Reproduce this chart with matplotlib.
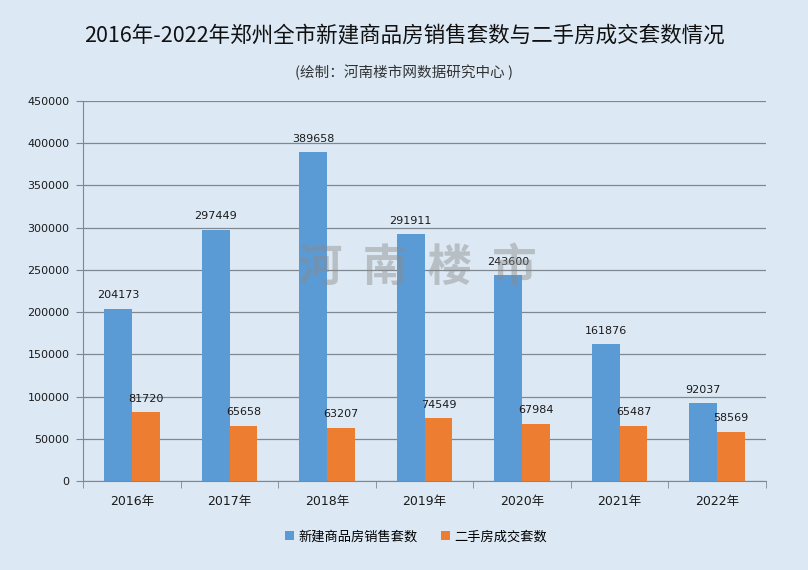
import matplotlib
matplotlib.use('Agg')
import matplotlib.pyplot as plt
import numpy as np

plt.rcParams['font.family'] = ['Noto Sans CJK SC', 'DejaVu Sans']

years = ['2016年', '2017年', '2018年', '2019年', '2020年', '2021年', '2022年']
new_homes = [204173, 297449, 389658, 291911, 243600, 161876, 92037]
resale = [81720, 65658, 63207, 74549, 67984, 65487, 58569]
y_ticks = [0, 50000, 100000, 150000, 200000, 250000, 300000, 350000, 400000, 450000]

bg = '#dce9f5'
blue = '#5b9bd5'
orange = '#ed7d31'
num_font = ['DejaVu Sans', 'Noto Sans CJK SC']

fig = plt.figure(figsize=(8.08, 5.70), dpi=100, facecolor=bg)
ax = fig.add_axes([0.103, 0.156, 0.845, 0.667], facecolor=bg)

x = np.arange(len(years))
w = 0.285
b1 = ax.bar(x - w / 2, new_homes, w, color=blue, label='新建商品房销售套数', zorder=3)
b2 = ax.bar(x + w / 2, resale, w, color=orange, label='二手房成交套数', zorder=3)

for bars, vals in ((b1, new_homes), (b2, resale)):
    for r, v in zip(bars, vals):
        ax.annotate(str(v), (r.get_x() + r.get_width() / 2, v), xytext=(0, 6),
                    textcoords='offset points', ha='center', va='bottom',
                    fontsize=8, family=num_font, color='#1a1a1a', zorder=4)

ax.set_xlim(-0.5, len(years) - 0.5)
ax.set_ylim(0, 450000)
ax.set_yticks(y_ticks)
ax.set_yticklabels([str(t) for t in y_ticks], fontsize=8, family=num_font, color='#1a1a1a')
ax.yaxis.grid(True, color='#7f8790', linewidth=0.9, zorder=0)

# category ticks sit on the boundaries between groups
ax.set_xticks(x)
ax.set_xticklabels(years, fontsize=9, family=num_font, color='#1a1a1a')
ax.tick_params(axis='x', length=0, pad=10)
ax.set_xticks(np.arange(-0.5, len(years)), minor=True)
ax.tick_params(axis='x', which='minor', length=5, color='#7f8790', direction='out')
ax.tick_params(axis='y', length=5, color='#7f8790', direction='out', pad=5)

for s in ('top', 'right'):
    ax.spines[s].set_visible(False)
ax.spines['left'].set_color('#7f8790')
ax.spines['bottom'].set_color('#7f8790')

fig.text(0.5, 0.938, '2016年-2022年郑州全市新建商品房销售套数与二手房成交套数情况',
         ha='center', va='center', fontsize=15.5, color='#111111')
fig.text(0.5, 0.873, '(绘制：河南楼市网数据研究中心 )', ha='center', va='center',
         fontsize=10.5, color='#333333')

# watermark
fig.text(0.517, 0.53, '河  南  楼  市', ha='center', va='center', fontsize=32,
         color='#8a8a8a', alpha=0.45, fontweight='bold', zorder=5)

fig.legend(handles=[b1, b2], loc='center', bbox_to_anchor=(0.515, 0.058), ncol=2,
           frameon=False, fontsize=9.5, handlelength=0.7, handleheight=0.7,
           handletextpad=0.3, columnspacing=1.8)

fig.savefig('out.png', dpi=100, facecolor=bg)
